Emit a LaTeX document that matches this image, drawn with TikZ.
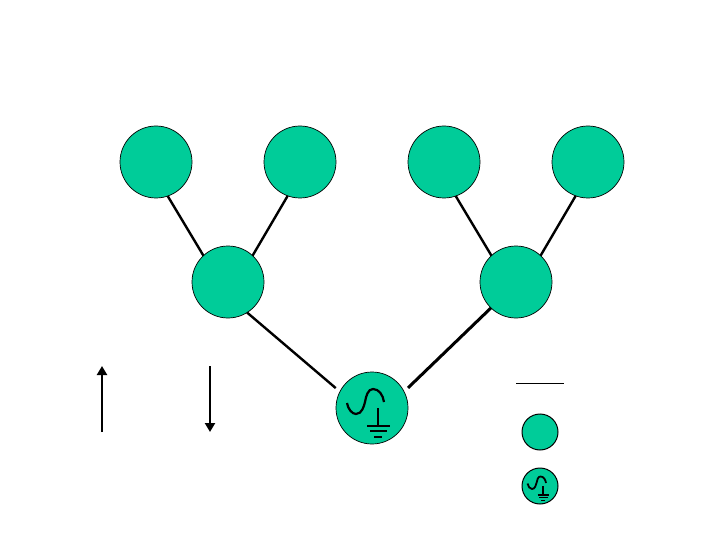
\documentclass[tikz,border=0pt]{standalone}
\usepackage{xcolor}
\usepackage{tikz}
\usetikzlibrary{arrows.meta, positioning}

\definecolor{nodegreen}{HTML}{00CC99}

\begin{document}
\begin{tikzpicture}[
    x=1pt,
    y=-1pt,
    node distance=72pt,
    station/.style={
        draw,
        circle,
        inner sep=0pt,
        outer sep=0pt,
        fill=nodegreen,
        minimum size=72pt,
        line width=0.7pt
    },
    smallstation/.style={
        station,
        minimum size=36pt,
        line width=1pt
    },
    link/.style={
        line width=2.4pt
    },
    arrow/.style={
        -{Triangle[length=9pt,width=10pt]},
        line width=2.6pt
    },
    acsource/.pic={
        % sine wave
        \draw (-25,-5) .. controls (-24,1) and (-20,6) .. (-16,6)
            .. controls (-10,6) and (-8,-2) .. (-7,-6)
            .. controls (-6,-12) and (-4,-19) .. (1,-19)
            .. controls (7,-19) and (11,-13) .. (12,-6);
        % ground
        \draw (6,0) -- (6,18);
        \draw (-5,18) -- (18,18);
        \draw (-2,23) -- (15,23);
        \draw (2,29) -- (10,29);
    }
]

\useasboundingbox (0,0) rectangle (720,540);

% Top row
\node[station] at (156,162) (leafa) {};
\node[station, right=of leafa] (leafb) {};
\node[station, right=of leafb] (leafc) {};
\node[station, right=of leafc] (leafd) {};

% Middle row
\node[station] at (228,282) (mida) {};
\node[station] at (516,282) (midb) {};

% Source
\node[station] at (372,408) (source) {};
\pic[line width=2.2pt] at (source) {acsource};

\draw[link] (leafa.-71) -- (mida.133);
\draw[link] (leafb.-110) -- (mida.47);
\draw[link] (leafc.-71) -- (midb.133);
\draw[link] (leafd.-110) -- (midb.47);
\draw[link, shorten >=5.5pt] (mida.-58) -- (source.153);
\draw[link, line width=3pt, shorten >=5.5pt] (midb.226) -- (source.27);

% Direction arrows
\coordinate (upfrom) at (102,432);
\coordinate (upto) at (102,366);
\coordinate (downfrom) at (210,366);
\coordinate (downto) at (210,432);
\draw[arrow] (upfrom) -- (upto);
\draw[arrow] (downfrom) -- (downto);

% Legend
\coordinate (keyleft) at (516,383.5);
\coordinate (keyright) at (564,383.5);
\draw[line width=1.8pt] (keyleft) -- (keyright);
\node[smallstation] at (540,432) (keynode) {};
\node[smallstation] at (540,486) (keysource) {};
\pic[scale=0.5, line width=1.8pt] at (keysource) {acsource};

\end{tikzpicture}
\end{document}
